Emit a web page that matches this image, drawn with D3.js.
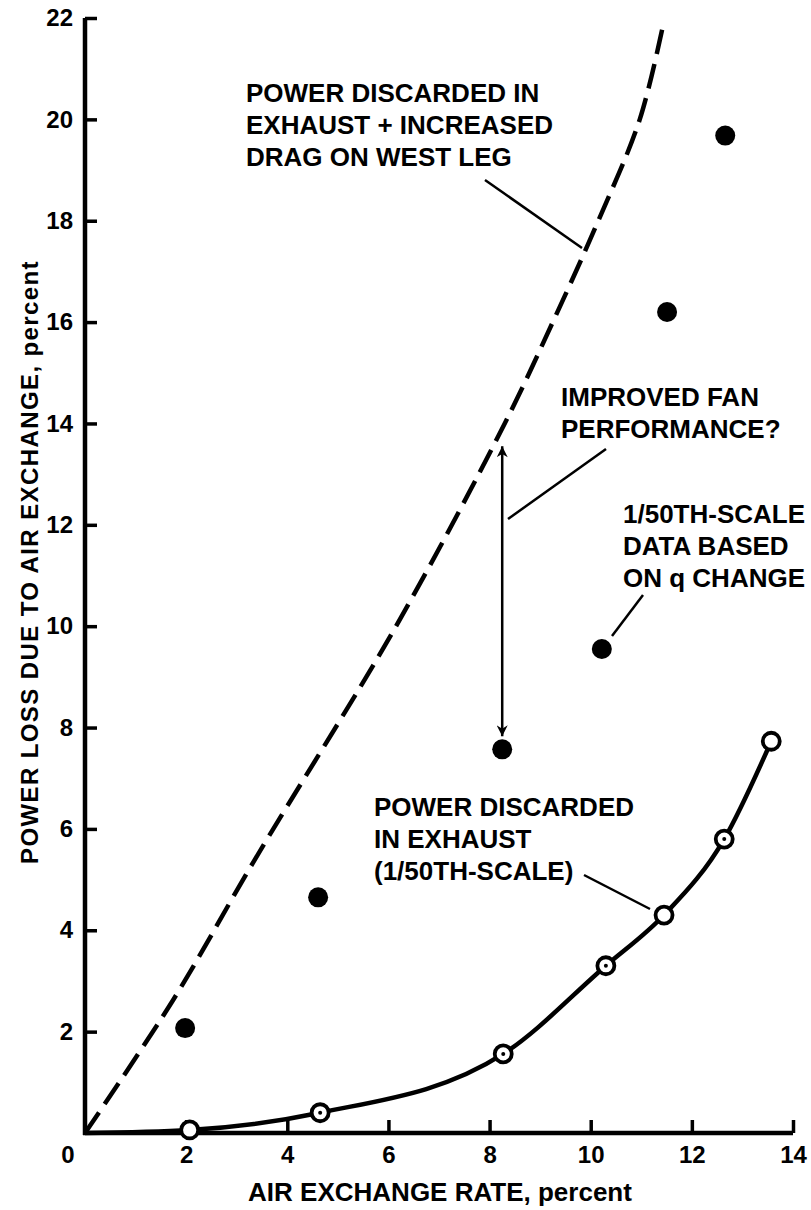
<!DOCTYPE html>
<html>
<head>
<meta charset="utf-8">
<script src="https://cdn.jsdelivr.net/npm/d3@7"></script>
<style>
  body { margin: 0; background: #fff; }
  svg text { font-family: 'Liberation Sans', Arial, sans-serif; font-weight: bold; fill: #000; }
</style>
</head>
<body>
<div class="svg-container"></div>
<script>
// values
var xTicks = [2, 4, 6, 8, 10, 12, 14];
var yTicks = [2, 4, 6, 8, 10, 12, 14, 16, 18, 20, 22];

// 1/50th-scale data based on q change (filled dots)
var qChange = [
  [1.98, 2.07], [4.61, 4.65], [8.25, 7.57], [10.22, 9.55], [11.51, 16.2], [12.66, 19.68]
];

// power discarded in exhaust (open circles); third field = small center dot
var exhaust = [
  [2.07, 0.06, false], [4.65, 0.4, true], [8.27, 1.56, true], [10.3, 3.3, true],
  [11.45, 4.3, false], [12.64, 5.8, true], [13.57, 7.73, false]
];

// exhaust + increased drag on west leg (dashed curve)
var dragCurve = [
  [0, 0], [1.74, 2.62], [3.35, 5.38], [6.15, 10], [8.3, 14], [9.25, 16],
  [10.15, 18], [10.97, 20], [11.45, 21.95]
];

var svg = d3.select('.svg-container').append('svg')
  .attr('width', 811)
  .attr('height', 1210);

var x = d3.scaleLinear().domain([0, 14]).range([85, 793]);
var y = d3.scaleLinear().domain([0, 22]).range([1133, 18]);

// axes
var yAxis = d3.axisLeft(y).tickValues(yTicks).tickSizeInner(-12).tickSizeOuter(0).tickPadding(12);
var xAxis = d3.axisBottom(x).tickValues(xTicks).tickSizeInner(-13).tickSizeOuter(0).tickPadding(13);

var gy = svg.append('g').attr('transform', 'translate(85,0)').call(yAxis);
var gx = svg.append('g').attr('transform', 'translate(0,1133)').call(xAxis);

[gy, gx].forEach(function (g) {
  g.select('.domain').attr('stroke', '#000').attr('stroke-width', 4.5);
  g.selectAll('.tick line').attr('stroke', '#000').attr('stroke-width', 3.5);
  g.selectAll('.tick text').style('font-size', '24px').attr('fill', '#000');
});
gy.select('.domain').attr('d', 'M0,' + y(22) + 'V' + (y(0) + 2));
gx.select('.domain').attr('d', 'M' + (x(0) - 2) + ',0H' + x(14));

// shared zero label
svg.append('text')
  .attr('x', x(0) - 17).attr('y', 1133 + 13)
  .attr('dy', '0.71em')
  .attr('text-anchor', 'middle')
  .style('font-size', '24px')
  .text('0');

svg.append('text')
  .attr('x', 440).attr('y', 1201)
  .attr('text-anchor', 'middle')
  .style('font-size', '26px')
  .text('AIR EXCHANGE RATE, percent');

svg.append('text')
  .attr('transform', 'translate(38,' + 562 + ') rotate(-90)')
  .attr('text-anchor', 'middle')
  .style('font-size', '24px')
  .style('letter-spacing', '1.4px')
  .text('POWER LOSS DUE TO AIR EXCHANGE, percent');

var line = d3.line()
  .x(function (d) { return x(d[0]); })
  .y(function (d) { return y(d[1]); });

// dashed curve
svg.append('path')
  .datum(dragCurve)
  .attr('d', line.curve(d3.curveCatmullRom))
  .attr('fill', 'none')
  .attr('stroke', '#000')
  .attr('stroke-width', 4.5)
  .attr('stroke-dasharray', '25,10');

// solid exhaust curve from the origin
svg.append('path')
  .datum([[0, 0]].concat(exhaust))
  .attr('d', line.curve(d3.curveMonotoneX))
  .attr('fill', 'none')
  .attr('stroke', '#000')
  .attr('stroke-width', 4.5);

// double arrow between dashed curve and dot
var ax = x(8.25);
svg.append('defs').append('marker')
  .attr('id', 'head')
  .attr('viewBox', '0 0 10 10')
  .attr('refX', 10).attr('refY', 5)
  .attr('markerWidth', 20).attr('markerHeight', 11)
  .attr('markerUnits', 'userSpaceOnUse')
  .attr('orient', 'auto-start-reverse')
  .append('path')
  .attr('d', 'M0,0L10,5L0,10L3,5Z')
  .attr('fill', '#000');

svg.append('line')
  .attr('x1', ax).attr('x2', ax)
  .attr('y1', y(13.55)).attr('y2', y(7.57) - 13)
  .attr('stroke', '#000').attr('stroke-width', 2.5)
  .attr('marker-start', 'url(#head)')
  .attr('marker-end', 'url(#head)');

// filled dots
svg.selectAll('.q')
  .data(qChange)
  .enter().append('circle')
  .attr('class', 'q')
  .attr('cx', function (d) { return x(d[0]); })
  .attr('cy', function (d) { return y(d[1]); })
  .attr('r', 10)
  .attr('fill', '#000');

// open circles
var ex = svg.selectAll('.ex')
  .data(exhaust)
  .enter().append('g')
  .attr('class', 'ex')
  .attr('transform', function (d) { return 'translate(' + x(d[0]) + ',' + y(d[1]) + ')'; });
ex.append('circle')
  .attr('r', 8.5)
  .attr('fill', '#fff')
  .attr('stroke', '#000')
  .attr('stroke-width', 3.8);
ex.filter(function (d) { return d[2]; }).append('circle')
  .attr('r', 2)
  .attr('fill', '#000');

// leader lines
var leaders = [
  [[485, 180], [582, 248]],
  [[606, 449], [508, 519]],
  [[643, 595], [612, 636]],
  [[584, 875], [650, 909]]
];
svg.selectAll('.leader')
  .data(leaders)
  .enter().append('line')
  .attr('x1', function (d) { return d[0][0]; })
  .attr('y1', function (d) { return d[0][1]; })
  .attr('x2', function (d) { return d[1][0]; })
  .attr('y2', function (d) { return d[1][1]; })
  .attr('stroke', '#000')
  .attr('stroke-width', 2.5);

// annotations
var notes = [
  { x: 246, y: 102, lines: ['POWER DISCARDED IN', 'EXHAUST + INCREASED', 'DRAG ON WEST LEG'] },
  { x: 561, y: 406, lines: ['IMPROVED FAN', 'PERFORMANCE?'] },
  { x: 623, y: 523, lines: ['1/50TH-SCALE', 'DATA BASED', 'ON q CHANGE'] },
  { x: 374, y: 816, lines: ['POWER DISCARDED', 'IN EXHAUST', '(1/50TH-SCALE)'] }
];
notes.forEach(function (n) {
  var t = svg.append('text')
    .attr('x', n.x).attr('y', n.y)
    .style('font-size', '26px');
  n.lines.forEach(function (s, i) {
    t.append('tspan').attr('x', n.x).attr('dy', i ? 32 : 0).text(s);
  });
});
</script>
</body>
</html>
